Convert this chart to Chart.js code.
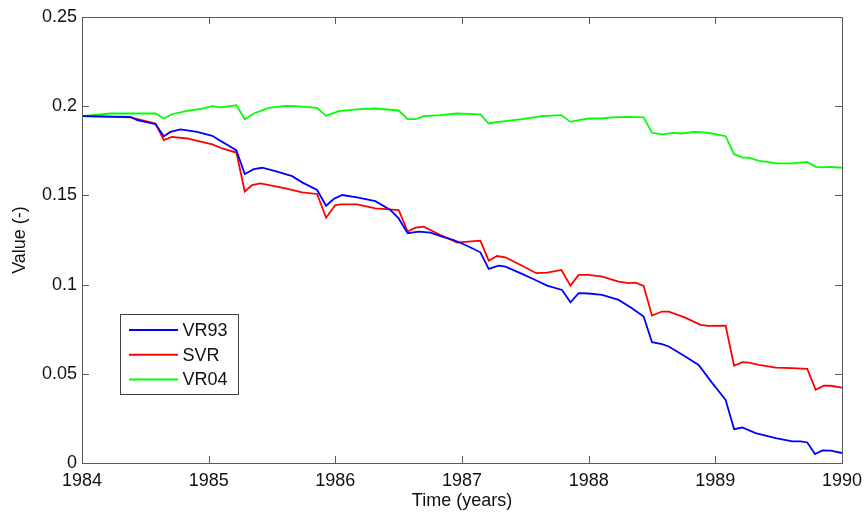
<!DOCTYPE html>
<html>
<head>
<meta charset="utf-8">
<script src="https://cdn.jsdelivr.net/npm/chart.js@4/dist/chart.umd.min.js"></script>
<style>
html,body{margin:0;padding:0;background:#fff;}
#wrap{width:864px;height:512px;position:relative;}
</style>
</head>
<body>
<div id="wrap"><canvas id="c" width="864" height="512"></canvas></div>
<script>
// ---- data ----
const seriesNames = ['VR93', 'SVR', 'VR04'];

const vr93Years = [1984.000,1984.383,1984.436,1984.580,1984.646,1984.698,1984.777,1984.909,1985.028,1985.107,1985.159,1985.219,1985.285,1985.356,1985.422,1985.527,1985.659,1985.738,1985.856,1985.927,1985.987,1986.054,1986.172,1986.316,1986.435,1986.500,1986.571,1986.658,1986.751,1986.843,1986.934,1987.027,1987.145,1987.211,1987.290,1987.343,1987.474,1987.579,1987.672,1987.790,1987.856,1987.921,1988.000,1988.106,1988.237,1988.342,1988.434,1988.500,1988.579,1988.632,1988.763,1988.868,1988.976,1989.029,1989.081,1989.148,1989.213,1989.318,1989.476,1989.608,1989.673,1989.726,1989.787,1989.845,1989.910,1990.000];
const vr93Values = [0.1944,0.1940,0.1922,0.1900,0.1832,0.1856,0.1870,0.1856,0.1834,0.1800,0.1778,0.1752,0.1620,0.1647,0.1655,0.1636,0.1608,0.1573,0.1530,0.1442,0.1480,0.1502,0.1489,0.1468,0.1418,0.1371,0.1288,0.1297,0.1291,0.1269,0.1250,0.1222,0.1181,0.1088,0.1106,0.1101,0.1060,0.1026,0.0994,0.0970,0.0901,0.0952,0.0950,0.0942,0.0914,0.0868,0.0821,0.0677,0.0666,0.0653,0.0597,0.0550,0.0448,0.0401,0.0354,0.0190,0.0199,0.0168,0.0140,0.0121,0.0121,0.0115,0.0050,0.0071,0.0069,0.0056];

const svrYears = [1984.000,1984.383,1984.580,1984.646,1984.709,1984.830,1985.028,1985.107,1985.219,1985.285,1985.343,1985.409,1985.606,1985.738,1985.856,1985.927,1986.000,1986.040,1986.172,1986.316,1986.500,1986.571,1986.632,1986.698,1986.830,1986.961,1987.000,1987.145,1987.211,1987.277,1987.343,1987.474,1987.587,1987.672,1987.785,1987.856,1987.921,1988.000,1988.106,1988.237,1988.316,1988.369,1988.434,1988.500,1988.579,1988.632,1988.763,1988.882,1988.947,1989.081,1989.148,1989.213,1989.266,1989.345,1989.476,1989.608,1989.726,1989.792,1989.858,1989.910,1990.000];
const svrValues = [0.1944,0.1937,0.1903,0.1810,0.1828,0.1819,0.1786,0.1763,0.1740,0.1522,0.1558,0.1567,0.1539,0.1517,0.1508,0.1375,0.1446,0.1450,0.1450,0.1427,0.1418,0.1297,0.1319,0.1325,0.1278,0.1235,0.1238,0.1246,0.1134,0.1160,0.1153,0.1106,0.1064,0.1067,0.1082,0.0994,0.1054,0.1054,0.1045,0.1017,0.1008,0.1011,0.0993,0.0826,0.0849,0.0849,0.0815,0.0774,0.0769,0.0770,0.0545,0.0565,0.0563,0.0550,0.0535,0.0532,0.0528,0.0410,0.0433,0.0433,0.0423];

const vr04Years = [1984.000,1984.225,1984.580,1984.646,1984.709,1984.830,1984.949,1985.028,1985.093,1985.219,1985.285,1985.356,1985.474,1985.606,1985.685,1985.856,1985.927,1986.027,1986.172,1986.316,1986.500,1986.571,1986.632,1986.698,1986.830,1986.961,1987.145,1987.211,1987.290,1987.474,1987.632,1987.785,1987.856,1987.921,1988.000,1988.106,1988.185,1988.316,1988.434,1988.500,1988.579,1988.671,1988.737,1988.829,1988.909,1988.976,1989.081,1989.148,1989.213,1989.266,1989.345,1989.410,1989.476,1989.608,1989.726,1989.792,1989.845,1989.910,1990.000];
const vr04Values = [0.1944,0.1959,0.1959,0.1931,0.1955,0.1974,0.1987,0.2000,0.1993,0.2005,0.1927,0.1959,0.1991,0.2002,0.2000,0.1991,0.1946,0.1972,0.1982,0.1987,0.1976,0.1927,0.1927,0.1944,0.1950,0.1959,0.1954,0.1903,0.1912,0.1927,0.1944,0.1950,0.1912,0.1922,0.1931,0.1931,0.1937,0.1940,0.1937,0.1851,0.1842,0.1851,0.1847,0.1856,0.1853,0.1847,0.1832,0.1731,0.1713,0.1711,0.1694,0.1688,0.1679,0.1679,0.1688,0.1660,0.1657,0.1660,0.1655];

const xTicks = [1984, 1985, 1986, 1987, 1988, 1989, 1990];
const xTickLabels = ['1984', '1985', '1986', '1987', '1988', '1989', '1990'];
const yTicks = [0, 0.05, 0.1, 0.15, 0.2, 0.25];
const yTickLabels = ['0', '0.05', '0.1', '0.15', '0.2', '0.25'];
const xTitle = 'Time (years)';
const yTitle = 'Value (-)';

// ---- chart ----
const FONT = '"Liberation Sans", Arial, Helvetica, sans-serif';
const FSIZE = 18;
const AXIS_COLOR = '#5a5a5a';
const colors = ['#0000ff', '#ff0000', '#00ff00'];

function pts(xs, ys) { return xs.map((x, i) => ({ x: x, y: ys[i] })); }

const boxPlugin = {
  id: 'matlabBox',
  afterDatasetsDraw(chart) {
    const { ctx, chartArea: a, scales } = chart;
    const xs = scales.x, ys = scales.y;
    ctx.save();
    ctx.strokeStyle = AXIS_COLOR;
    ctx.lineWidth = 1;
    const tl = 7;
    ctx.beginPath();
    xTicks.forEach(v => {
      const px = Math.round(xs.getPixelForValue(v)) + 0.5;
      ctx.moveTo(px, a.bottom); ctx.lineTo(px, a.bottom - tl);
      ctx.moveTo(px, a.top); ctx.lineTo(px, a.top + tl);
    });
    yTicks.forEach(v => {
      const py = Math.round(ys.getPixelForValue(v)) + 0.5;
      ctx.moveTo(a.left, py); ctx.lineTo(a.left + tl, py);
      ctx.moveTo(a.right, py); ctx.lineTo(a.right - tl, py);
    });
    ctx.stroke();
    ctx.strokeRect(Math.round(a.left) + 0.5, Math.round(a.top) + 0.5,
                   Math.round(a.right - a.left), Math.round(a.bottom - a.top));

    // legend
    const lx = 120.5, ly = 314.5, lw = 118, lh = 80;
    ctx.fillStyle = '#fff';
    ctx.fillRect(lx, ly, lw, lh);
    ctx.strokeStyle = '#404040';
    ctx.strokeRect(lx, ly, lw, lh);
    ctx.font = FSIZE + 'px ' + FONT;
    ctx.textBaseline = 'middle';
    ctx.textAlign = 'left';
    chart.data.datasets.forEach((ds, i) => {
      const y = 330 + i * 24.7;
      ctx.strokeStyle = ds.borderColor;
      ctx.lineWidth = 2;
      ctx.beginPath();
      ctx.moveTo(129, y); ctx.lineTo(178, y);
      ctx.stroke();
      ctx.fillStyle = '#111';
      ctx.fillText(ds.label, 182.5, y + 1);
    });
    ctx.restore();
  }
};

new Chart(document.getElementById('c'), {
  type: 'line',
  data: {
    datasets: [
      { label: seriesNames[0], data: pts(vr93Years, vr93Values) },
      { label: seriesNames[1], data: pts(svrYears, svrValues) },
      { label: seriesNames[2], data: pts(vr04Years, vr04Values) }
    ].map((d, i) => Object.assign(d, {
      borderColor: colors[i], backgroundColor: colors[i],
      borderWidth: 1.8, pointRadius: 0, tension: 0, fill: false
    }))
  },
  options: {
    responsive: false,
    animation: false,
    layout: { padding: { left: 0, top: 17, right: 22, bottom: 0 } },
    plugins: { legend: { display: false }, tooltip: { enabled: false } },
    scales: {
      x: {
        type: 'linear', min: 1984, max: 1990,
        afterBuildTicks: s => { s.ticks = xTicks.map(v => ({ value: v })); },
        afterFit: s => { s.height = 49; s.paddingLeft = 0; s.paddingRight = 0; },
        grid: { display: false, drawTicks: false },
        border: { display: false },
        ticks: {
          autoSkip: false, maxRotation: 0, padding: 7, color: '#111',
          font: { family: FONT, size: FSIZE },
          callback: (v, i) => xTickLabels[i]
        },
        title: { display: true, text: xTitle, color: '#111',
                 font: { family: FONT, size: FSIZE }, padding: { top: 0, bottom: 0 } }
      },
      y: {
        min: 0, max: 0.25,
        afterBuildTicks: s => { s.ticks = yTicks.map(v => ({ value: v })); },
        afterFit: s => { s.width = 82; s.paddingTop = 0; s.paddingBottom = 0; },
        grid: { display: false, drawTicks: false },
        border: { display: false },
        ticks: {
          autoSkip: false, padding: 5, color: '#111',
          font: { family: FONT, size: FSIZE },
          callback: (v, i) => yTickLabels[i]
        },
        title: { display: true, text: yTitle, color: '#111',
                 font: { family: FONT, size: FSIZE }, padding: { top: 9, bottom: 0 } }
      }
    }
  },
  plugins: [boxPlugin]
});
</script>
</body>
</html>
